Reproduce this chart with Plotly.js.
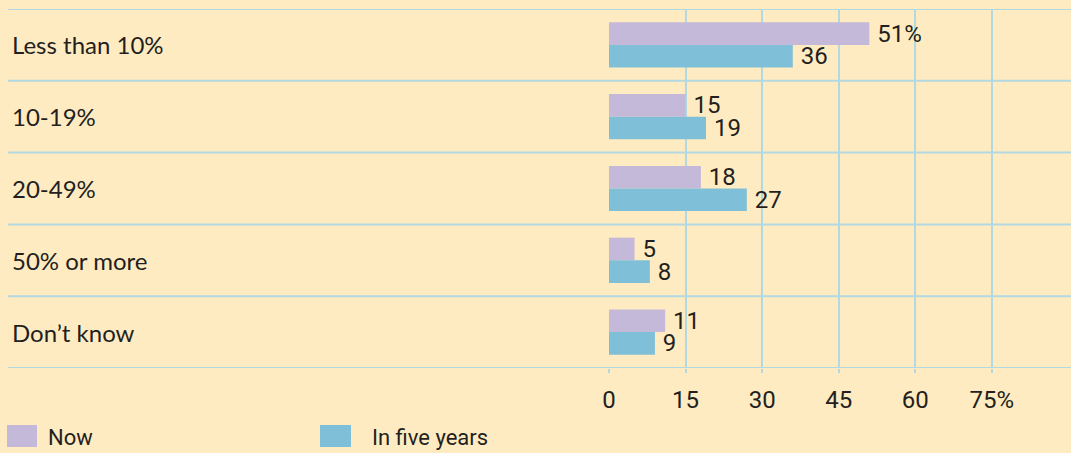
<!DOCTYPE html>
<html>
<head>
<meta charset="utf-8">
<script src="https://cdn.plot.ly/plotly-3.0.1.min.js"></script>
<style>
  html, body { margin: 0; padding: 0; background: #FFEBC1; }
  #chart { width: 1071px; height: 453px; }
</style>
</head>
<body>
<div id="chart"></div>
<script>
const categories = ['Less than 10%', '10-19%', '20-49%', '50% or more', 'Don\u2019t know'];
const nowValues = [51, 15, 18, 5, 11];
const fiveYearValues = [36, 19, 27, 8, 9];
const seriesNames = ['Now', 'In five years'];
const tickValues = [0, 15, 30, 45, 60, 75];
const tickLabels = ['0', '15', '30', '45', '60', '75%'];

const W = 1071, H = 453;
const mT = 9, mB = 85;
const plotH = H - mT - mB;
const xStart = 609;
const bg = '#FFEBC1';
const lineColor = '#B2D9E2';
const textColor = '#231F20';
const numFont = 'Roboto, "Liberation Sans", sans-serif';
const catFont = 'Lato, "Open Sans", sans-serif';
const colors = ['#C5B9DA', '#7FBFD8'];

const fmt = (vals, pctFirst) => vals.map((v, i) => '\u2009' + v + (pctFirst && i === 0 ? '%' : ''));

const traces = [
  {
    type: 'bar', orientation: 'h', name: seriesNames[0],
    y: categories, x: nowValues,
    marker: { color: colors[0] },
    text: fmt(nowValues, true), textposition: 'outside',
    textfont: { family: numFont, size: 24, color: textColor },
    constraintext: 'none', cliponaxis: false, hoverinfo: 'x+y'
  },
  {
    type: 'bar', orientation: 'h', name: seriesNames[1],
    y: categories, x: fiveYearValues,
    marker: { color: colors[1] },
    text: fmt(fiveYearValues, false), textposition: 'outside',
    textfont: { family: numFont, size: 24, color: textColor },
    constraintext: 'none', cliponaxis: false, hoverinfo: 'x+y'
  }
];

const shapes = [];
for (let i = 0; i <= categories.length; i++) {
  shapes.push({
    type: 'line', xref: 'paper', yref: 'y',
    x0: 8 / W, x1: 1, y0: i - 0.5, y1: i - 0.5,
    line: { color: lineColor, width: 2 }, layer: 'below'
  });
}
const toPY = px => (H - mB - px) / plotH;
const legendItems = [
  { x0: 7, x1: 37, tx: 46 },
  { x0: 320, x1: 351, tx: 370 }
];
const annotations = [];
legendItems.forEach((it, k) => {
  shapes.push({
    type: 'rect', xref: 'paper', yref: 'paper',
    x0: it.x0 / W, x1: it.x1 / W, y0: toPY(447), y1: toPY(425),
    fillcolor: colors[k], line: { width: 0 }
  });
  annotations.push({
    xref: 'paper', yref: 'paper', x: it.tx / W, y: toPY(437),
    xanchor: 'left', yanchor: 'middle', showarrow: false,
    text: seriesNames[k],
    font: { family: numFont, size: 22, color: textColor }
  });
});
categories.forEach(c => {
  annotations.push({
    xref: 'paper', yref: 'y', x: 10 / W, y: c,
    xanchor: 'left', yanchor: 'middle', showarrow: false,
    text: c, font: { family: catFont, size: 24, color: textColor }
  });
});

const layout = {
  width: W, height: H,
  margin: { l: 0, r: 0, t: mT, b: mB, pad: 0 },
  paper_bgcolor: bg, plot_bgcolor: bg,
  showlegend: false,
  barmode: 'group', bargap: 0.37, bargroupgap: 0,
  xaxis: {
    domain: [xStart / W, 1], range: [0, 90.5],
    tickmode: 'array', tickvals: tickValues, ticktext: tickLabels,
    showgrid: true, gridcolor: lineColor, gridwidth: 2,
    zeroline: false, showline: false,
    ticks: 'outside', ticklen: 4, tickcolor: lineColor, tickwidth: 2,
    ticklabelstandoff: 6,
    tickfont: { family: numFont, size: 24, color: textColor },
    fixedrange: true
  },
  yaxis: {
    type: 'category', categoryarray: categories, categoryorder: 'array',
    range: [categories.length - 0.5, -0.5],
    showticklabels: false, showgrid: false, zeroline: false, showline: false,
    ticks: '', fixedrange: true
  },
  shapes: shapes,
  annotations: annotations
};

Plotly.newPlot('chart', traces, layout, { displayModeBar: false, staticPlot: true });
</script>
</body>
</html>
